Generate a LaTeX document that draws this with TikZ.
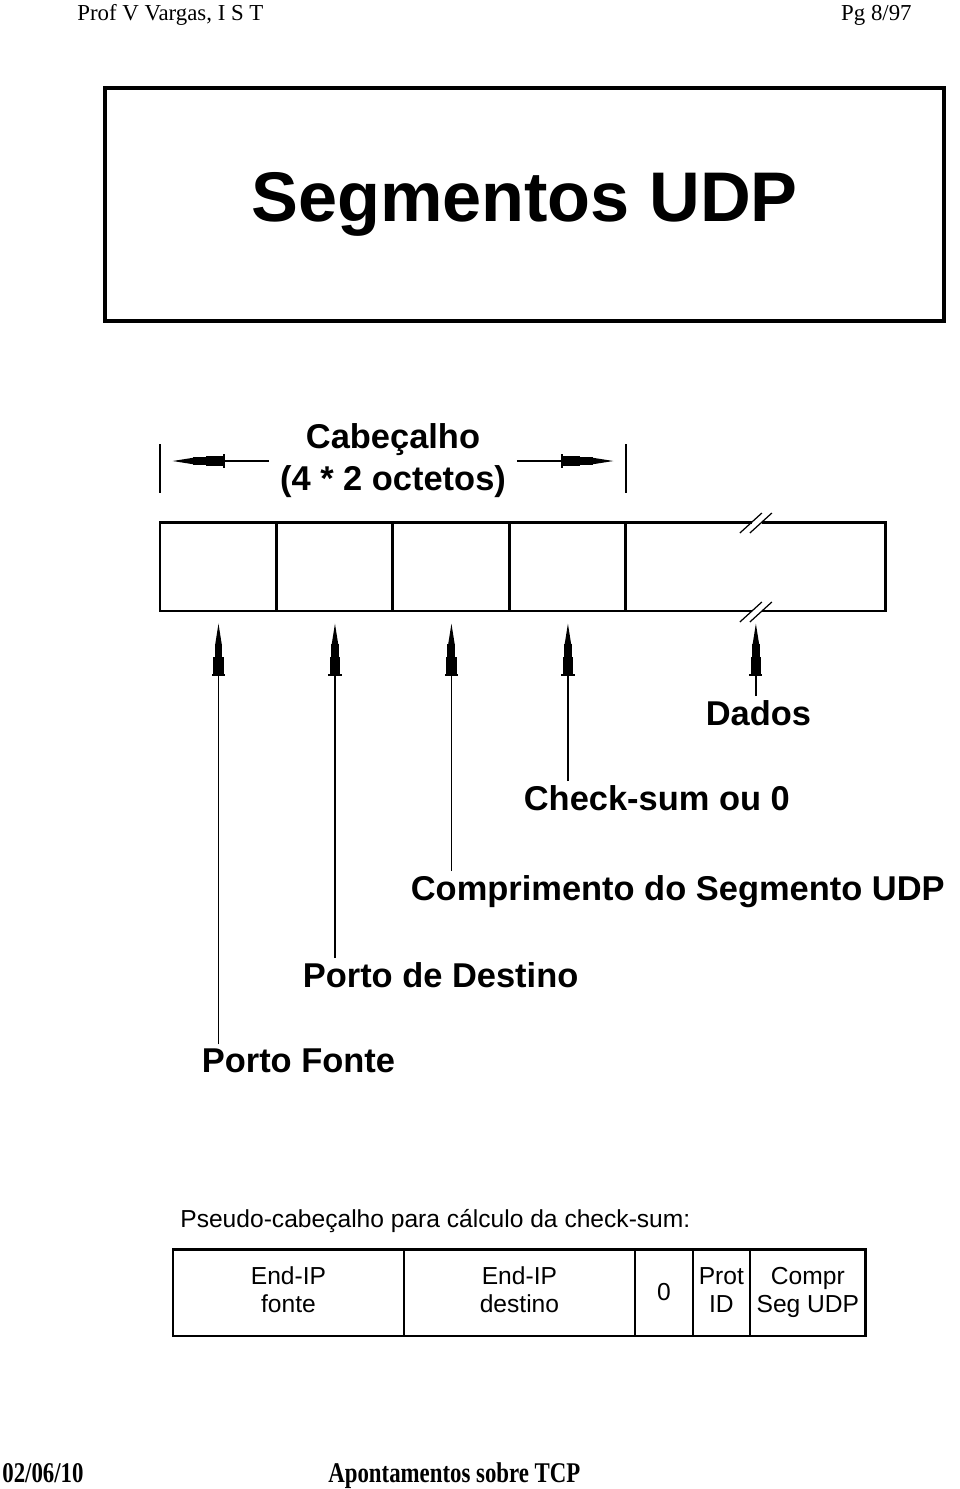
\documentclass[tikz,border=0pt]{standalone}
\usepackage{fontspec}
\setmainfont{Liberation Serif}
\setsansfont{Liberation Sans}
\usepackage{graphicx}
\usetikzlibrary{arrows.meta, positioning}

\begin{document}
\begin{tikzpicture}[
  x=0.02cm, y=-0.02cm,
  seg/.style={draw, line width=1.7pt, inner sep=0pt, outer sep=0pt,
    minimum height=1.78cm},
  pcell/.style={draw, line width=1.1pt, inner sep=0pt, outer sep=0pt,
    minimum height=1.74cm, align=center,
    font=\sffamily\fontsize{14}{16}\selectfont},
  lbl/.style={inner sep=2pt, anchor=base west,
    font=\sffamily\bfseries\fontsize{19.6}{23}\selectfont},
  pen/.style={line width=0.8pt, -{Rectangle[length=1.2pt,width=7.5pt,sep=0pt]
    Rectangle[length=10pt,width=6pt,sep=0pt]
    Rectangle[length=7pt,width=4.5pt,sep=0pt]
    Triangle[length=12pt,width=3.5pt,sep=0pt]}},
  sheet/.style={inner sep=0pt, font=\fontsize{13}{15}\selectfont}
]
\useasboundingbox (0,0) rectangle (960,1489);

% page header and footer
\node[sheet, anchor=base west] (autor) at (77,20) {Prof V Vargas, I S T};
\node[sheet, anchor=base east] (pag) at (912,20) {Pg 8/97};
\node[sheet, anchor=base west, font=\fontsize{13}{15}\selectfont\bfseries] (data) at (2,1482)
    {\scalebox{1}[1.25]{02/06/10}};
\node[sheet, anchor=base west, font=\fontsize{13}{15}\selectfont\bfseries] (tema) at (328,1482)
    {\scalebox{1}[1.25]{Apontamentos sobre TCP}};

% title
\node[draw, line width=2.3pt, minimum width=16.78cm, minimum height=4.66cm,
    font=\sffamily\bfseries\fontsize{40}{48}\selectfont] (titulo) at (524.5,204.5)
    {Segmentos UDP};

% header extent
\node[align=center, inner sep=6pt,
    font=\sffamily\bfseries\fontsize{19.6}{24}\selectfont] (cab) at (393,461)
    {Cabeçalho\\(4 * 2 octetos)};
\coordinate (lbar) at (160,462);
\coordinate (rbar) at (626,462);
\draw[line width=0.8pt] (160,444) -- (160,493) (626,444) -- (626,493);
\draw[pen, shorten >=7pt] (cab.west) -- (cab.west -| lbar);
\draw[pen, shorten >=7pt] (cab.east) -- (cab.east -| rbar);

% segment fields
\node[seg, minimum width=2.34cm, anchor=north west] (c1) at (160,522) {};
\node[seg, minimum width=2.32cm, right=0pt of c1] (c2) {};
\node[seg, minimum width=2.34cm, right=0pt of c2] (c3) {};
\node[seg, minimum width=2.32cm, right=0pt of c3] (c4) {};
\node[seg, minimum width=5.2cm, right=0pt of c4] (c5) {};

% break marks on the data field
\foreach \a in {north,south} {
  \begin{scope}[shift={(c5.\a)}]
    \draw[white, line width=2.5pt] (-4,0) -- (6,0);
    \draw[line width=0.7pt] (-16,11) -- (6,-9) (-6,11) -- (16,-9);
  \end{scope}
}

% field labels
\node[lbl] (dados) at (702,725) {Dados};
\node[lbl] (chk) at (520,810) {Check-sum ou 0};
\node[lbl] (compr) at (407,900) {Comprimento do Segmento UDP};
\node[lbl] (pdest) at (299,987) {Porto de Destino};
\node[lbl] (pfonte) at (198,1072) {Porto Fonte};

\draw[pen, shorten >=7pt] (pfonte.north -| c1) -- (c1.south);
\draw[pen, shorten >=7pt] (pdest.north -| c2) -- (c2.south);
\draw[pen, shorten >=7pt] (compr.north -| c3) -- (c3.south);
\draw[pen, shorten >=7pt] (chk.north -| c4) -- (c4.south);
\draw[pen, shorten >=7pt] (dados.north -| c5) -- (c5.south);

% pseudo header
\node[anchor=base west, inner sep=0pt, font=\sffamily\fontsize{14}{16}\selectfont]
    (pslbl) at (180,1227) {Pseudo-cabeçalho para cálculo da check-sum:};
\node[pcell, minimum width=4.62cm, anchor=north west] (p1) at (173,1249)
    {End-IP\strut\\fonte\strut};
\node[pcell, minimum width=4.62cm, right=0pt of p1] (p2) {End-IP\strut\\destino\strut};
\node[pcell, minimum width=1.16cm, right=0pt of p2] (p3) {0};
\node[pcell, minimum width=1.14cm, right=0pt of p3] (p4) {Prot\strut\\ID\strut};
\node[pcell, minimum width=2.32cm, right=0pt of p4] (p5) {Compr\strut\\Seg UDP\strut};
\draw[line width=1.7pt] (p1.north west) rectangle (p5.south east);
\end{tikzpicture}
\end{document}
